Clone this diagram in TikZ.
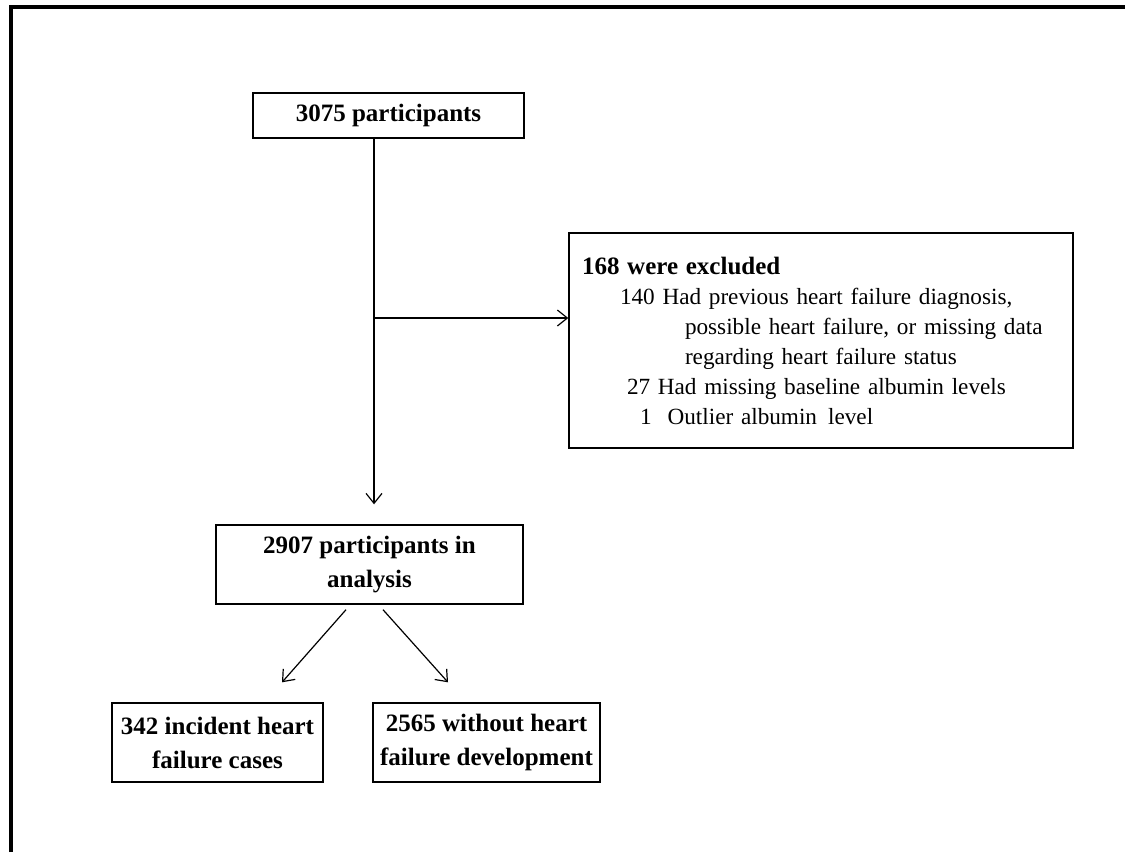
\documentclass[tikz,border=0pt]{standalone}
\usepackage{fontspec}
\setmainfont{Liberation Serif}
\usetikzlibrary{arrows.meta}
\tikzset{
  box/.style={draw, line width=0.7pt, align=center, inner sep=0pt,
    font=\fontsize{12.5}{17}\selectfont\bfseries},
  >={Straight Barb[length=5pt,width=8pt]},
}
\begin{document}
\begin{tikzpicture}[x=0.5pt,y=-0.5pt]
\useasboundingbox (0,0) rectangle (1125,852);
% frame
\draw[line width=2pt] (10.5,852) -- (10.5,7) -- (1125,7);
% boxes
\node[box, minimum width=135.5pt, minimum height=22.5pt] (total) at (388.5,115.5) {3075 participants};
\node[box, minimum width=153.5pt, minimum height=39.5pt] (analysis) at (369.5,564.5) {2907 participants in\\analysis};
\node[box, minimum width=105.5pt, minimum height=39.5pt] (cases) at (217.5,742.5) {342 incident heart\\failure cases};
\node[box, minimum width=113.5pt, minimum height=39.5pt] (noncases) at (486.5,742.5) {2565 without heart\\failure development};
\node[draw, line width=0.7pt, align=left, inner xsep=6.5pt, inner ysep=0pt,
  text width=239pt, minimum height=107.5pt,
  font=\fontsize{11.6}{15}\selectfont] (excl) at (821,340.5)
  {{\bfseries\fontsize{12.5}{15}\selectfont 168 were excluded}\\
   \hspace*{19pt}140 Had previous heart failure diagnosis,\\
   \hspace*{51.5pt}possible heart failure, or missing data\\
   \hspace*{51.5pt}regarding heart failure status\\
   \hspace*{22.5pt}27 Had missing baseline albumin levels\\
   \hspace*{29pt}1\hspace{8pt}Outlier albumin\hspace{5.5pt}level};
% connectors
\coordinate (trunk) at (374,318);
\draw[line width=0.6pt] (total.south -| trunk) -- (trunk);
\draw[->, line width=0.6pt, shorten >=10pt] (trunk) -- (trunk |- analysis.north);
\draw[->, line width=0.6pt] (trunk) -- (trunk -| excl.west);
\draw[->, line width=0.6pt] ([xshift=-11.75pt,yshift=-2.5pt]analysis.south) -- ([xshift=32.25pt,yshift=10pt]cases.north);
\draw[->, line width=0.6pt] ([xshift=6.75pt,yshift=-2.5pt]analysis.south) -- ([xshift=-19.25pt,yshift=10pt]noncases.north);
\end{tikzpicture}
\end{document}
